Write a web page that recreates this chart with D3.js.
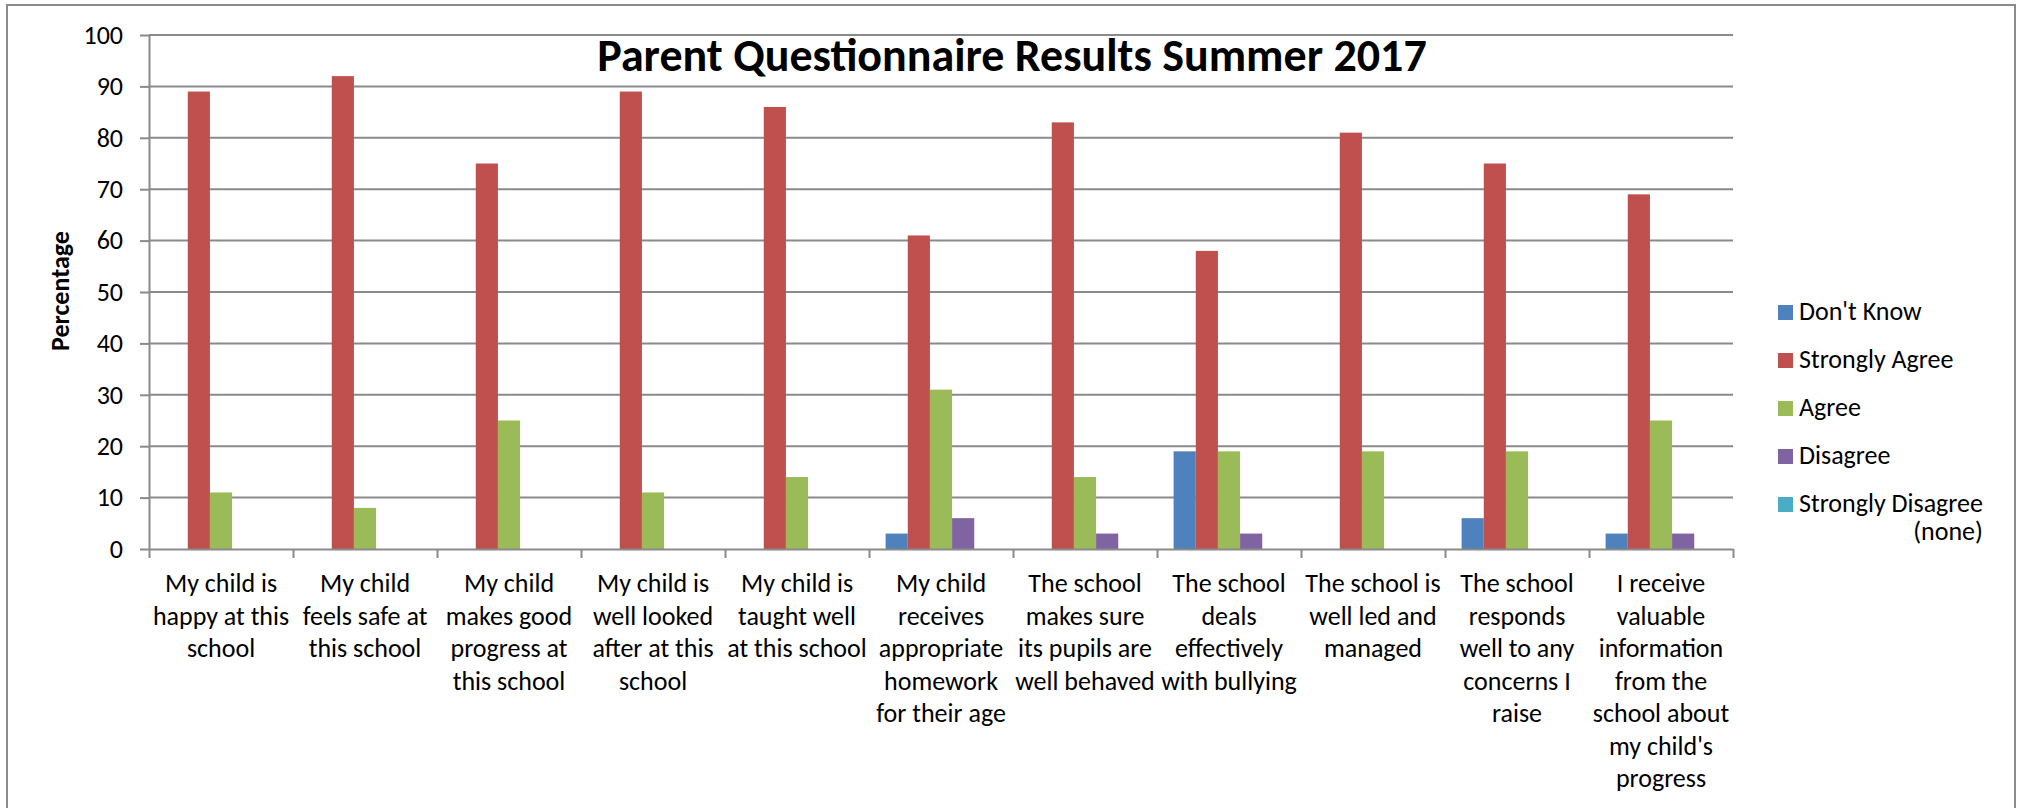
<!DOCTYPE html>
<html>
<head>
<meta charset="utf-8">
<script src="https://cdn.jsdelivr.net/npm/d3@7"></script>
<style>
  body { margin: 0; background: #fff; }
  svg text { font-family: Carlito, Calibri, Lato, "Open Sans", sans-serif; fill: #000; }
</style>
</head>
<body>
<svg id="chart" width="2022" height="808"></svg>
<script>
// categories, one array of lines per tick label (wrapped as in the original)
var categories = [
    ["My child is", "happy at this", "school"],
    ["My child", "feels safe at", "this school"],
    ["My child", "makes good", "progress at", "this school"],
    ["My child is", "well looked", "after at this", "school"],
    ["My child is", "taught well", "at this school"],
    ["My child", "receives", "appropriate", "homework", "for their age"],
    ["The school", "makes sure", "its pupils are", "well behaved"],
    ["The school", "deals", "effectively", "with bullying"],
    ["The school is", "well led and", "managed"],
    ["The school", "responds", "well to any", "concerns I", "raise"],
    ["I receive", "valuable", "information", "from the", "school about", "my child's", "progress"]
];

var seriesNames = ["Don't Know", "Strongly Agree", "Agree", "Disagree", "Strongly Disagree"];
var legendLabels = [["Don't Know"], ["Strongly Agree"], ["Agree"], ["Disagree"], ["Strongly Disagree", "(none)"]];
var colors = ["#4f81bd", "#c0504d", "#9bbb59", "#8064a2", "#4bacc6"];

var dontKnow         = [0, 0, 0, 0, 0, 3, 0, 19, 0, 6, 3];
var stronglyAgree    = [89, 92, 75, 89, 86, 61, 83, 58, 81, 75, 69];
var agree            = [11, 8, 25, 11, 14, 31, 14, 19, 19, 19, 25];
var disagree         = [0, 0, 0, 0, 0, 6, 3, 3, 0, 0, 3];
var stronglyDisagree = [0, 0, 0, 0, 0, 0, 0, 0, 0, 0, 0];

var yTicks = [0, 10, 20, 30, 40, 50, 60, 70, 80, 90, 100];

var values = [dontKnow, stronglyAgree, agree, disagree, stronglyDisagree];

var svg = d3.select("#chart");
var grey = "#8a8a8a";

// plot area (in window top is reserved, so other names)
var plotLeft = 149, plotRight = 1733, plotTop = 35, plotBottom = 549;

// chart frame
svg.append("rect")
    .attr("x", 7).attr("y", 5)
    .attr("width", 2008).attr("height", 830)
    .attr("fill", "none")
    .attr("stroke", grey)
    .attr("stroke-width", 2);

var x0 = d3.scaleBand()
    .domain(d3.range(categories.length))
    .range([plotLeft, plotRight])
    .paddingInner(0).paddingOuter(0);

var x1 = d3.scaleBand()
    .domain(d3.range(seriesNames.length))
    .range([0, x0.bandwidth()])
    .paddingInner(0).paddingOuter(0.75);

var y = d3.scaleLinear().domain([0, 100]).range([plotBottom, plotTop]);

// gridlines
svg.append("g").attr("class", "grid")
    .selectAll("line")
    .data(yTicks.filter(function(d) { return d > 0; }))
    .enter().append("line")
    .attr("x1", plotLeft).attr("x2", plotRight)
    .attr("y1", function(d) { return y(d); })
    .attr("y2", function(d) { return y(d); })
    .attr("stroke", grey)
    .attr("stroke-width", 2);

// bars
var groups = svg.append("g").attr("class", "bars")
    .selectAll("g")
    .data(categories)
    .enter().append("g")
    .attr("transform", function(d, i) { return "translate(" + x0(i) + ",0)"; });

groups.selectAll("rect")
    .data(function(d, i) {
        return values.map(function(s, k) { return { k: k, v: s[i] }; });
    })
    .enter().append("rect")
    .attr("x", function(d) { return x1(d.k); })
    .attr("width", x1.bandwidth())
    .attr("y", function(d) { return y(d.v); })
    .attr("height", function(d) { return plotBottom - y(d.v); })
    .attr("fill", function(d) { return colors[d.k]; });

// y axis
var yAxis = svg.append("g")
    .attr("transform", "translate(" + plotLeft + ",0)")
    .call(d3.axisLeft(y).tickValues(yTicks).tickSize(9).tickSizeOuter(0).tickPadding(17));
yAxis.select(".domain").attr("stroke", grey).attr("stroke-width", 2);
yAxis.selectAll(".tick line").attr("stroke", grey).attr("stroke-width", 2);
yAxis.selectAll(".tick text")
    .attr("font-size", 26)
    .style("font-family", "Carlito, Calibri, Lato, 'Open Sans', sans-serif");

// x axis: ticks on category boundaries
var xb = d3.scaleLinear().domain([0, categories.length]).range([plotLeft, plotRight]);
var xAxis = svg.append("g")
    .attr("transform", "translate(0," + plotBottom + ")")
    .call(d3.axisBottom(xb).tickValues(d3.range(categories.length + 1)).tickFormat("").tickSize(9).tickSizeOuter(0));
xAxis.select(".domain").attr("stroke", grey).attr("stroke-width", 2);
xAxis.selectAll(".tick line").attr("stroke", grey).attr("stroke-width", 2);

// category labels
svg.append("g").attr("class", "xlabels")
    .selectAll("text")
    .data(categories)
    .enter().append("text")
    .attr("text-anchor", "middle")
    .attr("font-size", 26)
    .attr("transform", function(d, i) { return "translate(" + (x0(i) + x0.bandwidth() / 2) + ",592)"; })
    .selectAll("tspan")
    .data(function(d) { return d; })
    .enter().append("tspan")
    .attr("x", 0)
    .attr("y", function(d, j) { return j * 32.5; })
    .text(function(d) { return d; });

// axis title
svg.append("text")
    .attr("transform", "translate(69,291) rotate(-90)")
    .attr("text-anchor", "middle")
    .attr("font-size", 26)
    .attr("font-weight", "bold")
    .text("Percentage");

// chart title
svg.append("text")
    .attr("x", 1012).attr("y", 71)
    .attr("text-anchor", "middle")
    .attr("font-size", 46)
    .attr("font-weight", "bold")
    .text("Parent Questionnaire Results Summer 2017");

// legend
var legend = svg.append("g").attr("class", "legend")
    .selectAll("g")
    .data(legendLabels)
    .enter().append("g")
    .attr("transform", function(d, i) { return "translate(1778," + (320 + i * 48) + ")"; });

legend.append("rect")
    .attr("x", 0).attr("y", -15)
    .attr("width", 15).attr("height", 15)
    .attr("fill", function(d, i) { return colors[i]; });

legend.each(function(d) {
    var t = d3.select(this).append("text")
        .attr("x", 21)
        .attr("font-size", 26)
        .text(d[0]);
    if (d.length > 1) {
        var w = t.node().getComputedTextLength();
        d3.select(this).append("text")
            .attr("x", 21 + w).attr("y", 28)
            .attr("text-anchor", "end")
            .attr("font-size", 26)
            .text(d[1]);
    }
});
</script>
</body>
</html>
